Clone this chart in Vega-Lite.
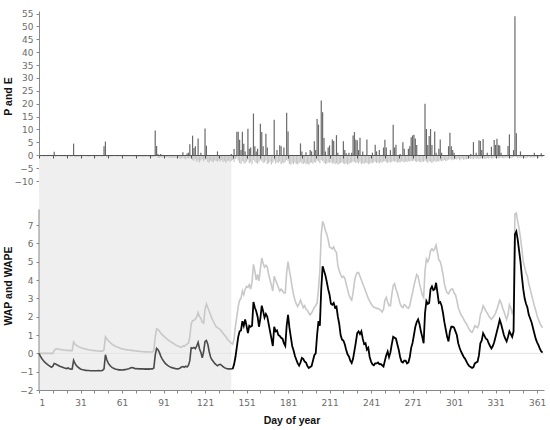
{
  "$schema": "https://vega.github.io/schema/vega-lite/v6.json",
  "background": "white",
  "padding": {"left": 3, "top": 9, "right": 5, "bottom": 5},
  "bounds": "flush",
  "config": {
    "view": {"stroke": null},
    "axis": {
      "grid": false,
      "labelFont": "DejaVu Sans",
      "labelFontSize": 9,
      "labelColor": "#6b6b6b",
      "labelOverlap": false,
      "titleFont": "Liberation Sans",
      "titleFontSize": 10.5,
      "titleFontWeight": "bold",
      "titleColor": "#111111",
      "domainColor": "#888888",
      "tickColor": "#888888",
      "tickSize": 3
    },
    "axisY": {"minExtent": 22, "maxExtent": 22, "titlePadding": 4, "labelPadding": 3}
  },
  "datasets": {
    "band": [{"start": 1, "end": 140}],
    "daily": [
      {"d":1,"E":-0.3,"WAP":0,"WAPE":0},
      {"d":2,"E":-0.5,"WAP":-0.15,"WAPE":0},
      {"d":3,"E":-0.2,"WAP":-0.28,"WAPE":0},
      {"d":4,"E":-0.4,"WAP":-0.38,"WAPE":0},
      {"d":5,"E":-0.6,"WAP":-0.47,"WAPE":0},
      {"d":6,"E":-0.3,"WAP":-0.54,"WAPE":0},
      {"d":7,"E":-0.5,"WAP":-0.6,"WAPE":0},
      {"d":8,"E":-0.4,"WAP":-0.66,"WAPE":0},
      {"d":9,"E":-0.2,"WAP":-0.71,"WAPE":0},
      {"d":10,"E":-0.5,"WAP":-0.76,"WAPE":0},
      {"d":11,"E":-0.3,"WAP":-0.7,"WAPE":0},
      {"d":12,"P":1.4,"E":-0.2,"WAP":-0.55,"WAPE":0.15},
      {"d":13,"E":-0.6,"WAP":-0.58,"WAPE":0.24},
      {"d":14,"E":-0.4,"WAP":-0.62,"WAPE":0.25},
      {"d":15,"E":-0.5,"WAP":-0.66,"WAPE":0.23},
      {"d":16,"E":-0.3,"WAP":-0.7,"WAPE":0.22},
      {"d":17,"E":-0.7,"WAP":-0.73,"WAPE":0.2},
      {"d":18,"E":-0.4,"WAP":-0.76,"WAPE":0.19},
      {"d":19,"E":-0.5,"WAP":-0.79,"WAPE":0.18},
      {"d":20,"E":-0.6,"WAP":-0.81,"WAPE":0.17},
      {"d":21,"E":-0.4,"WAP":-0.83,"WAPE":0.16},
      {"d":22,"E":-0.5,"WAP":-0.8,"WAPE":0.16},
      {"d":23,"E":-0.3,"WAP":-0.84,"WAPE":0.15},
      {"d":24,"E":-0.6,"WAP":-0.86,"WAPE":0.15},
      {"d":25,"E":-0.5,"WAP":-0.85,"WAPE":0.15},
      {"d":26,"P":4.5,"E":-0.2,"WAP":-0.38,"WAPE":0.62},
      {"d":27,"E":-0.8,"WAP":-0.55,"WAPE":0.5},
      {"d":28,"E":-0.7,"WAP":-0.66,"WAPE":0.44},
      {"d":29,"E":-0.5,"WAP":-0.74,"WAPE":0.39},
      {"d":30,"E":-0.6,"WAP":-0.8,"WAPE":0.35},
      {"d":31,"E":-0.4,"WAP":-0.85,"WAPE":0.32},
      {"d":32,"E":-0.6,"WAP":-0.88,"WAPE":0.29},
      {"d":33,"E":-0.5,"WAP":-0.9,"WAPE":0.27},
      {"d":34,"E":-0.3,"WAP":-0.92,"WAPE":0.25},
      {"d":35,"E":-0.5,"WAP":-0.93,"WAPE":0.23},
      {"d":36,"E":-0.4,"WAP":-0.94,"WAPE":0.21},
      {"d":37,"E":-0.6,"WAP":-0.94,"WAPE":0.2},
      {"d":38,"E":-0.5,"WAP":-0.95,"WAPE":0.18},
      {"d":39,"E":-0.3,"WAP":-0.95,"WAPE":0.17},
      {"d":40,"E":-0.4,"WAP":-0.95,"WAPE":0.16},
      {"d":41,"E":-0.5,"WAP":-0.95,"WAPE":0.15},
      {"d":42,"E":-0.6,"WAP":-0.95,"WAPE":0.14},
      {"d":43,"E":-0.4,"WAP":-0.95,"WAPE":0.13},
      {"d":44,"E":-0.5,"WAP":-0.94,"WAPE":0.13},
      {"d":45,"E":-0.3,"WAP":-0.95,"WAPE":0.12},
      {"d":46,"E":-0.6,"WAP":-0.95,"WAPE":0.12},
      {"d":47,"E":-0.5,"WAP":-0.93,"WAPE":0.12},
      {"d":48,"P":3.5,"E":-0.4,"WAP":-0.85,"WAPE":0.2},
      {"d":49,"P":5.3,"E":-0.2,"WAP":-0.08,"WAPE":0.91},
      {"d":50,"E":-0.9,"WAP":-0.35,"WAPE":0.8},
      {"d":51,"E":-0.7,"WAP":-0.52,"WAPE":0.7},
      {"d":52,"E":-0.5,"WAP":-0.64,"WAPE":0.62},
      {"d":53,"E":-0.6,"WAP":-0.72,"WAPE":0.55},
      {"d":54,"E":-0.4,"WAP":-0.78,"WAPE":0.49},
      {"d":55,"E":-0.5,"WAP":-0.82,"WAPE":0.44},
      {"d":56,"E":-0.3,"WAP":-0.85,"WAPE":0.4},
      {"d":57,"E":-0.5,"WAP":-0.87,"WAPE":0.36},
      {"d":58,"E":-0.6,"WAP":-0.89,"WAPE":0.33},
      {"d":59,"E":-0.4,"WAP":-0.9,"WAPE":0.3},
      {"d":60,"E":-0.5,"WAP":-0.9,"WAPE":0.27},
      {"d":61,"E":-0.6,"WAP":-0.91,"WAPE":0.25},
      {"d":62,"E":-0.4,"WAP":-0.9,"WAPE":0.23},
      {"d":63,"E":-0.5,"WAP":-0.89,"WAPE":0.21},
      {"d":64,"E":-0.7,"WAP":-0.88,"WAPE":0.2},
      {"d":65,"E":-0.5,"WAP":-0.86,"WAPE":0.19},
      {"d":66,"E":-0.6,"WAP":-0.84,"WAPE":0.18},
      {"d":67,"E":-0.4,"WAP":-0.8,"WAPE":0.17},
      {"d":68,"E":-0.6,"WAP":-0.78,"WAPE":0.16},
      {"d":69,"E":-0.5,"WAP":-0.79,"WAPE":0.15},
      {"d":70,"E":-0.7,"WAP":-0.82,"WAPE":0.14},
      {"d":71,"E":-0.6,"WAP":-0.84,"WAPE":0.13},
      {"d":72,"E":-0.5,"WAP":-0.83,"WAPE":0.12},
      {"d":73,"E":-0.7,"WAP":-0.85,"WAPE":0.11},
      {"d":74,"E":-0.6,"WAP":-0.84,"WAPE":0.1},
      {"d":75,"E":-0.5,"WAP":-0.85,"WAPE":0.1},
      {"d":76,"E":-0.8,"WAP":-0.84,"WAPE":0.09},
      {"d":77,"E":-0.6,"WAP":-0.86,"WAPE":0.09},
      {"d":78,"E":-0.7,"WAP":-0.85,"WAPE":0.08},
      {"d":79,"E":-0.5,"WAP":-0.86,"WAPE":0.08},
      {"d":80,"E":-0.6,"WAP":-0.85,"WAPE":0.08},
      {"d":81,"E":-0.7,"WAP":-0.86,"WAPE":0.07},
      {"d":82,"E":-0.8,"WAP":-0.84,"WAPE":0.07},
      {"d":83,"E":-0.6,"WAP":-0.85,"WAPE":0.08},
      {"d":84,"E":-0.7,"WAP":-0.8,"WAPE":0.15},
      {"d":85,"P":9.6,"E":-0.5,"WAP":-0.1,"WAPE":0.9},
      {"d":86,"P":3.6,"E":-0.3,"WAP":0.27,"WAPE":1.33},
      {"d":87,"P":0.5,"E":-1.2,"WAP":0.2,"WAPE":1.3},
      {"d":88,"E":-1.0,"WAP":0.05,"WAPE":1.2},
      {"d":89,"P":0.5,"E":-0.8,"WAP":-0.15,"WAPE":1.1},
      {"d":90,"E":-0.9,"WAP":-0.3,"WAPE":1.02},
      {"d":91,"E":-0.8,"WAP":-0.42,"WAPE":0.95},
      {"d":92,"E":-1.0,"WAP":-0.52,"WAPE":0.88},
      {"d":93,"E":-0.9,"WAP":-0.6,"WAPE":0.81},
      {"d":94,"E":-0.7,"WAP":-0.66,"WAPE":0.75},
      {"d":95,"E":-1.1,"WAP":-0.71,"WAPE":0.69},
      {"d":96,"E":-0.9,"WAP":-0.75,"WAPE":0.64},
      {"d":97,"E":-1.0,"WAP":-0.78,"WAPE":0.59},
      {"d":98,"E":-1.2,"WAP":-0.8,"WAPE":0.55},
      {"d":99,"E":-0.8,"WAP":-0.82,"WAPE":0.5},
      {"d":100,"E":-1.1,"WAP":-0.84,"WAPE":0.45},
      {"d":101,"E":-1.3,"WAP":-0.85,"WAPE":0.41},
      {"d":102,"E":-1.0,"WAP":-0.84,"WAPE":0.38},
      {"d":103,"E":-1.5,"WAP":-0.8,"WAPE":0.35},
      {"d":104,"E":-1.2,"WAP":-0.75,"WAPE":0.33},
      {"d":105,"P":1.2,"E":-0.9,"WAP":-0.72,"WAPE":0.4},
      {"d":106,"E":-1.4,"WAP":-0.76,"WAPE":0.38},
      {"d":107,"E":-1.6,"WAP":-0.7,"WAPE":0.45},
      {"d":108,"P":0.7,"E":-1.1,"WAP":-0.74,"WAPE":0.5},
      {"d":109,"P":1,"E":-1.3,"WAP":-0.66,"WAPE":0.55},
      {"d":110,"P":4.3,"E":-1.0,"WAP":-0.4,"WAPE":0.9},
      {"d":111,"E":-1.2,"WAP":0.3,"WAPE":1.6},
      {"d":112,"P":7.6,"E":-1.8,"WAP":0.28,"WAPE":1.78},
      {"d":113,"P":2.8,"E":-2.2,"WAP":0.32,"WAPE":1.8},
      {"d":114,"P":3.5,"E":-1.5,"WAP":0.25,"WAPE":1.85},
      {"d":115,"E":-2.5,"WAP":0.4,"WAPE":2.0},
      {"d":116,"P":6.5,"E":-1.9,"WAP":0.6,"WAPE":2.23},
      {"d":117,"E":-2.8,"WAP":0.25,"WAPE":2.0},
      {"d":118,"P":1,"E":-2.0,"WAP":0.05,"WAPE":1.9},
      {"d":119,"E":-1.6,"WAP":-0.25,"WAPE":1.7},
      {"d":120,"E":-2.3,"WAP":0.1,"WAPE":1.65},
      {"d":121,"P":10.4,"E":-1.8,"WAP":0.65,"WAPE":2.4},
      {"d":122,"P":3.7,"E":-1.5,"WAP":0.7,"WAPE":2.69},
      {"d":123,"E":-2.6,"WAP":0.5,"WAPE":2.5},
      {"d":124,"E":-2.9,"WAP":0.1,"WAPE":2.3},
      {"d":125,"E":-2.1,"WAP":-0.2,"WAPE":2.1},
      {"d":126,"E":-2.4,"WAP":-0.35,"WAPE":1.9},
      {"d":127,"E":-2.7,"WAP":-0.45,"WAPE":1.75},
      {"d":128,"E":-1.9,"WAP":-0.55,"WAPE":1.6},
      {"d":129,"E":-2.2,"WAP":-0.62,"WAPE":1.45},
      {"d":130,"P":1.5,"E":-2.5,"WAP":-0.68,"WAPE":1.4},
      {"d":131,"E":-2.0,"WAP":-0.62,"WAPE":1.35},
      {"d":132,"E":-2.4,"WAP":-0.6,"WAPE":1.3},
      {"d":133,"E":-1.8,"WAP":-0.66,"WAPE":1.2},
      {"d":134,"E":-2.6,"WAP":-0.72,"WAPE":1.1},
      {"d":135,"E":-2.2,"WAP":-0.78,"WAPE":1.0},
      {"d":136,"E":-2.9,"WAP":-0.82,"WAPE":0.9},
      {"d":137,"E":-2.3,"WAP":-0.84,"WAPE":0.8},
      {"d":138,"E":-2.0,"WAP":-0.85,"WAPE":0.7},
      {"d":139,"E":-2.5,"WAP":-0.85,"WAPE":0.63},
      {"d":140,"P":0.5,"E":-2.1,"WAP":-0.85,"WAPE":0.55},
      {"d":141,"E":-1.8,"WAP":-0.85,"WAPE":0.5},
      {"d":142,"P":2.4,"E":-2.6,"WAP":-0.6,"WAPE":0.8},
      {"d":143,"E":-1.5,"WAP":-0.2,"WAPE":1.5},
      {"d":144,"P":9.1,"E":-1.2,"WAP":0.35,"WAPE":2.0},
      {"d":145,"P":9.1,"E":-2.0,"WAP":0.9,"WAPE":2.56},
      {"d":146,"P":6,"E":-3.0,"WAP":1.2,"WAPE":2.9},
      {"d":147,"P":2,"E":-3.4,"WAP":1.25,"WAPE":3.0},
      {"d":148,"P":9.1,"E":-2.2,"WAP":1.75,"WAPE":3.4},
      {"d":149,"P":4.5,"E":-2.8,"WAP":1.5,"WAPE":3.2},
      {"d":150,"P":1.5,"E":-3.2,"WAP":1.85,"WAPE":3.5},
      {"d":151,"E":-2.5,"WAP":1.5,"WAPE":3.65},
      {"d":152,"P":10.3,"E":-1.9,"WAP":1.1,"WAPE":3.6},
      {"d":153,"P":2.5,"E":-3.1,"WAP":1.5,"WAPE":3.75},
      {"d":154,"P":3,"E":-2.7,"WAP":1.45,"WAPE":3.5},
      {"d":155,"E":-3.5,"WAP":1.5,"WAPE":3.9},
      {"d":156,"P":16.2,"E":-1.8,"WAP":2.8,"WAPE":4.85},
      {"d":157,"P":3.5,"E":-2.4,"WAP":2.5,"WAPE":4.5},
      {"d":158,"P":1.5,"E":-3.0,"WAP":2.3,"WAPE":4.0},
      {"d":159,"P":2.5,"E":-3.3,"WAP":2.0,"WAPE":4.3},
      {"d":160,"E":-2.6,"WAP":1.45,"WAPE":3.95},
      {"d":161,"P":12.2,"E":-1.9,"WAP":1.9,"WAPE":4.6},
      {"d":162,"P":9,"E":-2.2,"WAP":2.6,"WAPE":5.2},
      {"d":163,"P":3.5,"E":-3.0,"WAP":2.3,"WAPE":4.9},
      {"d":164,"E":-2.8,"WAP":1.95,"WAPE":4.7},
      {"d":165,"P":8.3,"E":-2.0,"WAP":2.15,"WAPE":4.8},
      {"d":166,"P":3,"E":-3.4,"WAP":2.0,"WAPE":4.7},
      {"d":167,"E":-3.1,"WAP":1.6,"WAPE":4.3},
      {"d":168,"E":-2.5,"WAP":1.2,"WAPE":4.0},
      {"d":169,"E":-3.6,"WAP":0.8,"WAPE":3.7},
      {"d":170,"E":-2.9,"WAP":0.4,"WAPE":3.4},
      {"d":171,"P":13.8,"E":-2.0,"WAP":1.45,"WAPE":4.2},
      {"d":172,"E":-3.2,"WAP":1.2,"WAPE":4.0},
      {"d":173,"P":2,"E":-2.7,"WAP":1.25,"WAPE":3.8},
      {"d":174,"E":-3.0,"WAP":1.0,"WAPE":3.6},
      {"d":175,"P":3.9,"E":-2.4,"WAP":0.95,"WAPE":3.4},
      {"d":176,"P":3.5,"E":-3.5,"WAP":0.85,"WAPE":3.5},
      {"d":177,"E":-2.9,"WAP":0.8,"WAPE":3.4},
      {"d":178,"P":3,"E":-3.1,"WAP":0.55,"WAPE":3.3},
      {"d":179,"E":-2.6,"WAP":0.4,"WAPE":3.3},
      {"d":180,"P":16.5,"E":-1.8,"WAP":1.5,"WAPE":4.4},
      {"d":181,"P":9.2,"E":-2.3,"WAP":2.1,"WAPE":5.0},
      {"d":182,"E":-3.4,"WAP":1.4,"WAPE":4.5},
      {"d":183,"E":-3.7,"WAP":0.9,"WAPE":4.1},
      {"d":184,"E":-3.0,"WAP":0.4,"WAPE":3.6},
      {"d":185,"E":-3.5,"WAP":0.15,"WAPE":3.2},
      {"d":186,"E":-2.8,"WAP":-0.15,"WAPE":2.9},
      {"d":187,"E":-3.3,"WAP":-0.35,"WAPE":2.7},
      {"d":188,"E":-3.6,"WAP":-0.55,"WAPE":2.55},
      {"d":189,"E":-3.0,"WAP":-0.67,"WAPE":2.7},
      {"d":190,"P":4.6,"E":-2.5,"WAP":-0.5,"WAPE":2.9},
      {"d":191,"P":1.5,"E":-3.1,"WAP":-0.25,"WAPE":2.7},
      {"d":192,"E":-3.4,"WAP":-0.3,"WAPE":2.5},
      {"d":193,"E":-2.9,"WAP":-0.45,"WAPE":2.6},
      {"d":194,"P":1.2,"E":-3.5,"WAP":-0.5,"WAPE":2.4},
      {"d":195,"E":-3.2,"WAP":-0.7,"WAPE":2.35},
      {"d":196,"E":-3.7,"WAP":-0.8,"WAPE":2.2},
      {"d":197,"P":2,"E":-3.0,"WAP":-0.75,"WAPE":2.1},
      {"d":198,"P":1.5,"E":-2.8,"WAP":-0.7,"WAPE":2.2},
      {"d":199,"E":-3.3,"WAP":-0.4,"WAPE":2.35},
      {"d":200,"P":5.4,"E":-2.6,"WAP":-0.1,"WAPE":2.5},
      {"d":201,"P":2,"E":-2.9,"WAP":0.0,"WAPE":2.6},
      {"d":202,"P":14.1,"E":-2.0,"WAP":1.0,"WAPE":2.75},
      {"d":203,"P":11.9,"E":-2.4,"WAP":1.76,"WAPE":3.5},
      {"d":204,"E":-3.1,"WAP":1.5,"WAPE":4.5},
      {"d":205,"P":21.3,"E":-1.8,"WAP":3.5,"WAPE":6.5},
      {"d":206,"P":16.7,"E":-2.2,"WAP":4.75,"WAPE":7.2},
      {"d":207,"P":6.7,"E":-2.9,"WAP":4.5,"WAPE":7.0},
      {"d":208,"P":1.5,"E":-3.4,"WAP":4.25,"WAPE":6.7},
      {"d":209,"E":-3.2,"WAP":3.9,"WAPE":6.5},
      {"d":210,"P":3,"E":-2.8,"WAP":3.5,"WAPE":6.2},
      {"d":211,"P":3.8,"E":-3.0,"WAP":3.2,"WAPE":5.8},
      {"d":212,"E":-2.6,"WAP":2.7,"WAPE":5.75},
      {"d":213,"P":6.1,"E":-3.3,"WAP":2.65,"WAPE":5.7},
      {"d":214,"P":5.5,"E":-2.9,"WAP":2.75,"WAPE":5.8},
      {"d":215,"E":-3.5,"WAP":2.5,"WAPE":5.6},
      {"d":216,"P":7.8,"E":-3.1,"WAP":2.55,"WAPE":5.5},
      {"d":217,"P":1,"E":-3.6,"WAP":2.0,"WAPE":4.8},
      {"d":218,"E":-3.3,"WAP":1.6,"WAPE":4.5},
      {"d":219,"E":-3.0,"WAP":1.0,"WAPE":4.3},
      {"d":220,"E":-2.7,"WAP":0.75,"WAPE":4.15},
      {"d":221,"P":5.4,"E":-3.2,"WAP":0.7,"WAPE":4.2},
      {"d":222,"P":2,"E":-3.5,"WAP":0.5,"WAPE":4.1},
      {"d":223,"P":0.8,"E":-3.1,"WAP":0.2,"WAPE":3.8},
      {"d":224,"E":-3.6,"WAP":-0.05,"WAPE":3.5},
      {"d":225,"P":1,"E":-3.3,"WAP":-0.17,"WAPE":3.2},
      {"d":226,"E":-3.0,"WAP":-0.4,"WAPE":3.0},
      {"d":227,"P":1,"E":-2.8,"WAP":-0.53,"WAPE":2.9},
      {"d":228,"P":7.7,"E":-2.4,"WAP":-0.3,"WAPE":3.3},
      {"d":229,"P":9,"E":-2.6,"WAP":0.15,"WAPE":3.9},
      {"d":230,"P":6,"E":-3.0,"WAP":0.6,"WAPE":4.25},
      {"d":231,"P":5.8,"E":-2.8,"WAP":1.1,"WAPE":4.4},
      {"d":232,"P":2,"E":-3.2,"WAP":1.2,"WAPE":4.4},
      {"d":233,"P":6.8,"E":-2.5,"WAP":1.05,"WAPE":4.2},
      {"d":234,"E":-3.4,"WAP":1.2,"WAPE":4.0},
      {"d":235,"P":1.5,"E":-3.1,"WAP":0.8,"WAPE":3.8},
      {"d":236,"E":-3.3,"WAP":0.5,"WAPE":3.6},
      {"d":237,"E":-2.9,"WAP":0.55,"WAPE":3.4},
      {"d":238,"P":6.1,"E":-3.0,"WAP":0.2,"WAPE":3.2},
      {"d":239,"E":-3.5,"WAP":0.3,"WAPE":3.0},
      {"d":240,"E":-3.2,"WAP":-0.2,"WAPE":2.85},
      {"d":241,"E":-2.9,"WAP":-0.45,"WAPE":2.7},
      {"d":242,"P":1,"E":-3.1,"WAP":-0.6,"WAPE":2.6},
      {"d":243,"E":-2.7,"WAP":-0.65,"WAPE":2.5},
      {"d":244,"P":4.1,"E":-2.5,"WAP":-0.55,"WAPE":2.5},
      {"d":245,"P":1.5,"E":-3.0,"WAP":-0.55,"WAPE":2.45},
      {"d":246,"E":-2.8,"WAP":-0.5,"WAPE":2.45},
      {"d":247,"P":2,"E":-3.2,"WAP":-0.6,"WAPE":2.4},
      {"d":248,"E":-2.6,"WAP":-0.58,"WAPE":2.35},
      {"d":249,"E":-2.9,"WAP":-0.65,"WAPE":2.25},
      {"d":250,"P":3,"E":-2.4,"WAP":-0.72,"WAPE":2.4},
      {"d":251,"P":6,"E":-2.3,"WAP":-0.4,"WAPE":2.9},
      {"d":252,"P":3,"E":-2.7,"WAP":-0.1,"WAPE":3.05},
      {"d":253,"E":-3.0,"WAP":0.1,"WAPE":2.8},
      {"d":254,"E":-2.5,"WAP":-0.2,"WAPE":2.6},
      {"d":255,"P":2,"E":-2.8,"WAP":0.05,"WAPE":2.6},
      {"d":256,"E":-2.6,"WAP":0.5,"WAPE":3.2},
      {"d":257,"P":11.8,"E":-2.2,"WAP":0.9,"WAPE":3.7},
      {"d":258,"P":3,"E":-2.5,"WAP":0.85,"WAPE":3.8},
      {"d":259,"P":4.1,"E":-2.4,"WAP":0.8,"WAPE":3.5},
      {"d":260,"E":-2.9,"WAP":0.5,"WAPE":3.3},
      {"d":261,"E":-2.6,"WAP":0.2,"WAPE":3.0},
      {"d":262,"P":0.5,"E":-2.8,"WAP":-0.2,"WAPE":2.7},
      {"d":263,"E":-2.3,"WAP":-0.45,"WAPE":2.55},
      {"d":264,"P":5,"E":-2.5,"WAP":-0.5,"WAPE":2.5},
      {"d":265,"P":2.5,"E":-2.7,"WAP":-0.4,"WAPE":2.65},
      {"d":266,"E":-2.4,"WAP":-0.4,"WAPE":2.6},
      {"d":267,"E":-2.6,"WAP":-0.55,"WAPE":2.5},
      {"d":268,"P":2.5,"E":-2.2,"WAP":-0.5,"WAPE":2.45},
      {"d":269,"P":3.5,"E":-2.5,"WAP":-0.2,"WAPE":2.6},
      {"d":270,"P":7,"E":-2.1,"WAP":0.3,"WAPE":3.0},
      {"d":271,"P":7.7,"E":-2.3,"WAP":0.57,"WAPE":3.3},
      {"d":272,"P":8,"E":-2.0,"WAP":1.0,"WAPE":3.7},
      {"d":273,"P":6.5,"E":-2.4,"WAP":1.45,"WAPE":4.0},
      {"d":274,"P":4,"E":-2.6,"WAP":1.7,"WAPE":4.3},
      {"d":275,"E":-2.2,"WAP":1.85,"WAPE":4.2},
      {"d":276,"E":-2.5,"WAP":1.6,"WAPE":3.8},
      {"d":277,"E":-2.8,"WAP":1.2,"WAPE":3.5},
      {"d":278,"E":-2.3,"WAP":0.9,"WAPE":3.2},
      {"d":279,"E":-2.6,"WAP":0.55,"WAPE":3.05},
      {"d":280,"P":20,"E":-2.0,"WAP":2.2,"WAPE":4.5},
      {"d":281,"P":10.2,"E":-2.4,"WAP":2.85,"WAPE":5.15},
      {"d":282,"P":4,"E":-2.9,"WAP":2.7,"WAPE":5.0},
      {"d":283,"P":7.5,"E":-2.2,"WAP":2.75,"WAPE":5.2},
      {"d":284,"P":10.2,"E":-2.7,"WAP":3.5,"WAPE":5.6},
      {"d":285,"P":4,"E":-3.0,"WAP":3.65,"WAPE":5.7},
      {"d":286,"E":-2.5,"WAP":3.45,"WAPE":5.6},
      {"d":287,"P":9.2,"E":-2.1,"WAP":3.5,"WAPE":5.7},
      {"d":288,"P":1,"E":-2.6,"WAP":3.85,"WAPE":5.9},
      {"d":289,"E":-2.3,"WAP":3.3,"WAPE":5.5},
      {"d":290,"P":2.5,"E":-2.4,"WAP":2.75,"WAPE":5.1},
      {"d":291,"P":6.1,"E":-2.0,"WAP":2.8,"WAPE":5.0},
      {"d":292,"P":1,"E":-2.3,"WAP":2.6,"WAPE":4.7},
      {"d":293,"E":-2.1,"WAP":2.2,"WAPE":4.3},
      {"d":294,"E":-1.8,"WAP":1.7,"WAPE":3.8},
      {"d":295,"E":-2.2,"WAP":1.3,"WAPE":3.5},
      {"d":296,"E":-2.0,"WAP":0.9,"WAPE":3.3},
      {"d":297,"P":3.5,"E":-1.7,"WAP":0.65,"WAPE":3.25},
      {"d":298,"P":8.7,"E":-1.5,"WAP":1.2,"WAPE":3.4},
      {"d":299,"P":3.5,"E":-1.9,"WAP":1.45,"WAPE":3.5},
      {"d":300,"P":2,"E":-1.6,"WAP":1.45,"WAPE":3.5},
      {"d":301,"P":1,"E":-1.8,"WAP":1.4,"WAPE":3.3},
      {"d":302,"E":-1.5,"WAP":1.2,"WAPE":3.2},
      {"d":303,"E":-1.7,"WAP":1.0,"WAPE":2.9},
      {"d":304,"E":-1.4,"WAP":0.55,"WAPE":2.5},
      {"d":305,"E":-1.9,"WAP":0.3,"WAPE":2.3},
      {"d":306,"E":-1.6,"WAP":0.1,"WAPE":2.1},
      {"d":307,"E":-1.3,"WAP":-0.05,"WAPE":2.0},
      {"d":308,"E":-1.8,"WAP":-0.2,"WAPE":1.85},
      {"d":309,"E":-1.5,"WAP":-0.3,"WAPE":1.7},
      {"d":310,"E":-1.6,"WAP":-0.45,"WAPE":1.6},
      {"d":311,"E":-1.4,"WAP":-0.6,"WAPE":1.45},
      {"d":312,"E":-1.2,"WAP":-0.7,"WAPE":1.3},
      {"d":313,"P":0.5,"E":-1.5,"WAP":-0.75,"WAPE":1.2},
      {"d":314,"E":-1.3,"WAP":-0.8,"WAPE":1.15},
      {"d":315,"P":5.1,"E":-1.6,"WAP":-0.75,"WAPE":1.3},
      {"d":316,"E":-1.1,"WAP":-0.55,"WAPE":1.5},
      {"d":317,"P":1,"E":-1.4,"WAP":-0.5,"WAPE":1.45},
      {"d":318,"E":-1.2,"WAP":-0.45,"WAPE":1.4},
      {"d":319,"P":5.8,"E":-1.5,"WAP":-0.1,"WAPE":1.6},
      {"d":320,"P":5.5,"E":-1.3,"WAP":0.55,"WAPE":2.1},
      {"d":321,"P":2,"E":-1.0,"WAP":0.7,"WAPE":2.3},
      {"d":322,"P":6.3,"E":-1.4,"WAP":1.1,"WAPE":2.6},
      {"d":323,"E":-1.2,"WAP":0.95,"WAPE":2.45},
      {"d":324,"E":-1.5,"WAP":0.8,"WAPE":2.3},
      {"d":325,"P":1,"E":-1.1,"WAP":0.75,"WAPE":2.2},
      {"d":326,"E":-1.3,"WAP":0.55,"WAPE":2.05},
      {"d":327,"E":-1.0,"WAP":0.4,"WAPE":1.95},
      {"d":328,"P":3.3,"E":-1.2,"WAP":0.27,"WAPE":1.85},
      {"d":329,"E":-1.4,"WAP":0.4,"WAPE":1.95},
      {"d":330,"P":5.9,"E":-0.9,"WAP":0.6,"WAPE":2.05},
      {"d":331,"P":4,"E":-1.1,"WAP":0.9,"WAPE":2.2},
      {"d":332,"P":6.4,"E":-1.3,"WAP":1.2,"WAPE":2.4},
      {"d":333,"P":4,"E":-1.0,"WAP":1.5,"WAPE":2.65},
      {"d":334,"P":3.8,"E":-1.2,"WAP":1.83,"WAPE":2.9},
      {"d":335,"P":1,"E":-0.9,"WAP":1.6,"WAPE":2.75},
      {"d":336,"E":-1.1,"WAP":1.3,"WAPE":2.5},
      {"d":337,"E":-1.3,"WAP":1.0,"WAPE":2.3},
      {"d":338,"E":-1.0,"WAP":0.8,"WAPE":2.05},
      {"d":339,"E":-0.8,"WAP":0.65,"WAPE":1.85},
      {"d":340,"P":3.6,"E":-1.1,"WAP":0.9,"WAPE":2.1},
      {"d":341,"P":8.1,"E":-0.9,"WAP":1.2,"WAPE":2.65},
      {"d":342,"E":-1.2,"WAP":1.05,"WAPE":2.5},
      {"d":343,"E":-1.0,"WAP":0.9,"WAPE":2.2},
      {"d":344,"P":2,"E":-0.8,"WAP":1.2,"WAPE":2.4},
      {"d":345,"P":54,"E":-0.6,"WAP":6.5,"WAPE":7.6},
      {"d":346,"P":8.5,"E":-0.7,"WAP":6.65,"WAPE":7.65},
      {"d":347,"E":-1.2,"WAP":6.2,"WAPE":7.2},
      {"d":348,"E":-1.0,"WAP":5.6,"WAPE":6.8},
      {"d":349,"P":1.5,"E":-0.9,"WAP":5.0,"WAPE":6.3},
      {"d":350,"E":-1.1,"WAP":4.2,"WAPE":5.7},
      {"d":351,"E":-0.8,"WAP":3.5,"WAPE":5.0},
      {"d":352,"E":-1.0,"WAP":3.0,"WAPE":4.7},
      {"d":353,"E":-1.2,"WAP":2.7,"WAPE":4.4},
      {"d":354,"E":-0.9,"WAP":2.5,"WAPE":4.2},
      {"d":355,"E":-0.7,"WAP":2.1,"WAPE":3.8},
      {"d":356,"E":-1.1,"WAP":1.9,"WAPE":3.5},
      {"d":357,"E":-0.8,"WAP":1.7,"WAPE":3.2},
      {"d":358,"E":-1.0,"WAP":1.4,"WAPE":2.9},
      {"d":359,"P":1,"E":-0.9,"WAP":1.1,"WAPE":2.6},
      {"d":360,"E":-0.7,"WAP":0.8,"WAPE":2.35},
      {"d":361,"E":-0.8,"WAP":0.6,"WAPE":2.05},
      {"d":362,"E":-1.0,"WAP":0.45,"WAPE":1.85},
      {"d":363,"E":-0.6,"WAP":0.25,"WAPE":1.65},
      {"d":364,"P":0.8,"E":-0.9,"WAP":0.1,"WAPE":1.5},
      {"d":365,"E":-0.7,"WAP":0.05,"WAPE":1.4}
    ]
  },
  "data": {"name": "daily"},
  "spacing": 0,
  "vconcat": [
    {
      "width": 505,
      "height": 170,
      "layer": [
        {
          "data": {"name": "band"},
          "mark": {"type": "rect", "color": "#efefef"},
          "encoding": {
            "x": {
              "field": "start", "type": "quantitative", "title": null,
              "scale": {"domain": [1, 366], "nice": false, "zero": false},
              "axis": {
                "labels": false, "offset": -26, "zindex": 1, "labelOverlap": false,
                "values": [1, 11, 21, 31, 41, 51, 61, 71, 81, 91, 101, 111, 121, 131, 141, 151, 161, 171, 181, 191, 201, 211, 221, 231, 241, 251, 261, 271, 281, 291, 301, 311, 321, 331, 341, 351, 361],
                "domainColor": "#555555", "tickColor": "#555555", "tickSize": 3
              }
            },
            "x2": {"field": "end"},
            "y": {
              "datum": -10, "type": "quantitative", "title": "P and E",
              "scale": {"domain": [-10, 56], "nice": false},
              "axis": {"values": [-10, -5, 0, 5, 10, 15, 20, 25, 30, 35, 40, 45, 50, 55], "labelOverlap": false}
            },
            "y2": {"datum": 0}
          }
        },
        {
          "mark": {"type": "rule", "color": "#c6c6c6", "strokeWidth": 1.2},
          "encoding": {
            "x": {
              "field": "d", "type": "quantitative", "title": null,
              "scale": {"domain": [1, 366], "nice": false, "zero": false},
              "axis": {
                "labels": false, "offset": -26, "zindex": 1, "labelOverlap": false,
                "values": [1, 11, 21, 31, 41, 51, 61, 71, 81, 91, 101, 111, 121, 131, 141, 151, 161, 171, 181, 191, 201, 211, 221, 231, 241, 251, 261, 271, 281, 291, 301, 311, 321, 331, 341, 351, 361],
                "domainColor": "#555555", "tickColor": "#555555", "tickSize": 3
              }
            },
            "y": {
              "field": "E", "type": "quantitative", "title": "P and E",
              "scale": {"domain": [-10, 56], "nice": false},
              "axis": {"values": [-10, -5, 0, 5, 10, 15, 20, 25, 30, 35, 40, 45, 50, 55], "labelOverlap": false}
            },
            "y2": {"datum": 0}
          }
        },
        {
          "mark": {"type": "rule", "color": "#6a6a6a", "strokeWidth": 1.2},
          "encoding": {
            "x": {
              "field": "d", "type": "quantitative", "title": null,
              "scale": {"domain": [1, 366], "nice": false, "zero": false},
              "axis": {
                "labels": false, "offset": -26, "zindex": 1, "labelOverlap": false,
                "values": [1, 11, 21, 31, 41, 51, 61, 71, 81, 91, 101, 111, 121, 131, 141, 151, 161, 171, 181, 191, 201, 211, 221, 231, 241, 251, 261, 271, 281, 291, 301, 311, 321, 331, 341, 351, 361],
                "domainColor": "#555555", "tickColor": "#555555", "tickSize": 3
              }
            },
            "y": {
              "field": "P", "type": "quantitative", "title": "P and E",
              "scale": {"domain": [-10, 56], "nice": false},
              "axis": {"values": [-10, -5, 0, 5, 10, 15, 20, 25, 30, 35, 40, 45, 50, 55], "labelOverlap": false}
            },
            "y2": {"datum": 0}
          }
        }
      ]
    },
    {
      "width": 505,
      "height": 209,
      "encoding": {
        "x": {
          "type": "quantitative",
          "scale": {"domain": [1, 366], "nice": false, "zero": false, "padding": 0},
          "title": "Day of year",
          "axis": {
            "values": [1, 11, 21, 31, 41, 51, 61, 71, 81, 91, 101, 111, 121, 131, 141, 151, 161, 171, 181, 191, 201, 211, 221, 231, 241, 251, 261, 271, 281, 291, 301, 311, 321, 331, 341, 351, 361],
            "labelExpr": "(datum.value - 1) % 30 == 0 ? datum.label : ''",
            "labelOverlap": false,
            "tickSize": 3, "labelPadding": 5, "titlePadding": 8
          }
        },
        "y": {
          "type": "quantitative",
          "scale": {"domain": [-2, 9.4], "nice": false, "padding": 0},
          "title": "WAP and WAPE",
          "axis": {"values": [-2, -1, 0, 1, 2, 3, 4, 5, 6, 7], "domain": false, "labelOverlap": false}
        }
      },
      "layer": [
        {
          "data": {"name": "band"},
          "mark": {"type": "rect", "color": "#efefef"},
          "encoding": {
            "x": {"field": "start"},
            "x2": {"field": "end"},
            "y": {"datum": -2},
            "y2": {"datum": 9.4}
          }
        },
        {
          "data": {"name": "band"},
          "mark": {"type": "rule", "color": "#e4e4e4", "strokeWidth": 1},
          "encoding": {"x": null, "y": {"datum": 0}}
        },
        {
          "data": {"name": "band"},
          "mark": {"type": "rule", "color": "#888888", "strokeWidth": 1},
          "encoding": {
            "x": {"field": "start"},
            "y": {"datum": -2},
            "y2": {"datum": 7.85}
          }
        },
        {
          "mark": {"type": "line", "color": "#c8c8c8", "strokeWidth": 1.6},
          "encoding": {
            "x": {"field": "d"},
            "y": {"field": "WAPE"}
          }
        },
        {
          "transform": [{"filter": "datum.d <= 141"}],
          "mark": {"type": "line", "color": "#4a4a4a", "strokeWidth": 1.6},
          "encoding": {
            "x": {"field": "d"},
            "y": {"field": "WAP"}
          }
        },
        {
          "transform": [{"filter": "datum.d >= 141"}],
          "mark": {"type": "line", "color": "#000000", "strokeWidth": 1.8},
          "encoding": {
            "x": {"field": "d"},
            "y": {"field": "WAP"}
          }
        }
      ]
    }
  ]
}
